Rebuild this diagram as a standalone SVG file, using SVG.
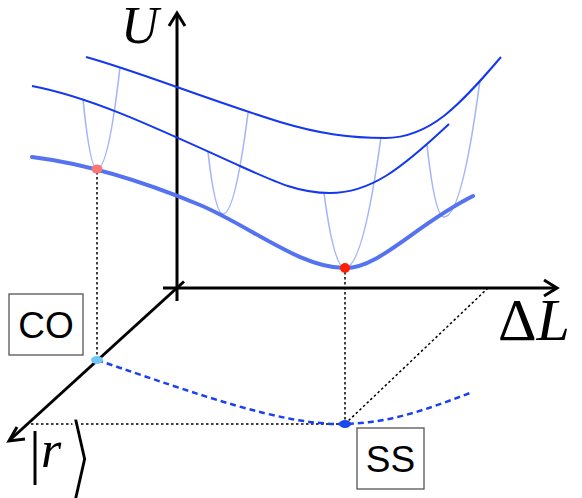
<svg xmlns="http://www.w3.org/2000/svg" width="582" height="498" viewBox="0 0 582 498">
<style>
.axis{fill:none;stroke:#000;stroke-width:3;stroke-linecap:butt}
.head{fill:none;stroke:#000;stroke-width:3;stroke-linejoin:miter}
.lvl{fill:none;stroke:#1437f0;stroke-width:2}
.gs{fill:none;stroke:#5573f0;stroke-width:4;stroke-linecap:round}
.par{fill:none;stroke:#a3b6fa;stroke-width:1.6}
.dot{fill:none;stroke:#000;stroke-width:1.5;stroke-dasharray:2.5 2.5}
.dash{fill:none;stroke:#1a40f0;stroke-width:2.5;stroke-dasharray:6 4}
.box{fill:#fff;stroke:#555;stroke-width:1.3}
.lab{font-family:"Liberation Sans",Arial,sans-serif;font-size:37px;fill:#000}
.math{font-family:"Liberation Serif","DejaVu Serif",serif;fill:#000}
</style>
<g id="axes">
<line class="axis" x1="177" y1="301" x2="177" y2="15"/>
<polyline class="head" points="169,26 177,13 185,26"/>
<line class="axis" x1="163" y1="288" x2="555" y2="288"/>
<polyline class="head" points="544,280 557,288 544,296"/>
<line class="axis" x1="184" y1="281.5" x2="11" y2="439"/>
<polyline class="head" points="17,427 9,441 25,439"/>
</g>
<g id="connectors">
<line class="dot" x1="97" y1="172" x2="97" y2="357"/>
<line class="dot" x1="345" y1="272" x2="345" y2="421"/>
<line class="dot" x1="31" y1="424" x2="345" y2="424"/>
<line class="dot" x1="345" y1="424" x2="488" y2="288"/>
<path class="dash" d="M97,360 C200,395 280,424 340,424 C390,424 430,408 470,393"/>
</g>
<g id="curves">
<path class="par" d="M83,99 Q90,169 97,169 Q108.5,169 120,67"/>
<path class="par" d="M208,152 Q215,214 223,214 Q235,214 248,113"/>
<path class="par" d="M324,193 Q334,268 345,268 Q363,268 381,137"/>
<path class="par" d="M427,145 Q435,217 444,217 Q462,217 480,80"/>
<path class="lvl" d="M86,57 C140,72 200,97 280,122 C320,134 350,138 385,138 C430,138 460,105 501,57"/>
<path class="lvl" d="M32,86 C90,97 150,125 240,166 C280,184 300,193 330,193 C370,193 400,170 449,124"/>
<path class="gs" d="M32,157 C80,163 140,180 200,205 C250,226 300,268 345,268 C380,268 415,225 473,196"/>
</g>
<g id="points">
<ellipse cx="97" cy="169" rx="5.5" ry="4.5" fill="#f87676"/>
<circle cx="345" cy="268" r="5" fill="#ff2000"/>
<ellipse cx="97" cy="360" rx="6" ry="4" fill="#6fc8f8"/>
<ellipse cx="345" cy="424" rx="6" ry="4" fill="#1a48f0"/>
</g>
<g id="node-U"><text class="math" x="121" y="43" font-size="52" font-style="italic">U</text></g>
<g id="node-dL"><text class="math" x="498" y="340" font-size="60">Δ<tspan font-style="italic">L</tspan></text></g>
<g id="node-r"><text class="math"><tspan x="29" y="472" font-size="60">|</tspan><tspan x="41" y="467" font-size="52" font-style="italic">r</tspan></text><text class="math" transform="translate(67,488) scale(1,1.36)" font-size="68" stroke="#fff" stroke-width="2.5">⟩</text></g>
<g id="node-CO"><rect class="box" x="9" y="294" width="74" height="61"/><text class="lab" x="46" y="338" text-anchor="middle">CO</text></g>
<g id="node-SS"><rect class="box" x="357" y="428" width="67" height="61"/><text class="lab" x="390.5" y="472" text-anchor="middle">SS</text></g>
</svg>
